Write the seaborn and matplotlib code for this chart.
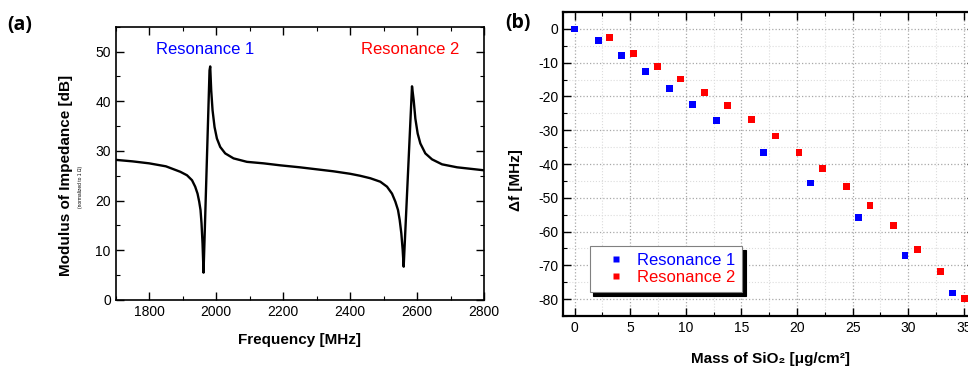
"""Impedance spectrum of a two-mode resonator and frequency shift vs. SiO2 mass loading."""

import matplotlib.pyplot as plt
import pandas as pd
import seaborn as sns
from matplotlib.ticker import MultipleLocator

# panel (a): modulus of impedance vs frequency
freq_mhz = [1700, 1750, 1800, 1850, 1893, 1913, 1928, 1937.5, 1944.5, 1949.4, 1953.4, 1956.4,
            1959.4, 1962.4, 1980.3, 1982.3, 1985.3, 1989.3, 1995.3, 2002.3, 2012.2, 2027.1,
            2052, 2092, 2141.6, 2191.5, 2250, 2300, 2350, 2400, 2430, 2460.5, 2490.4, 2510.4,
            2525.3, 2535.2, 2543.2, 2548.2, 2553.1, 2557.1, 2560.1, 2585, 2590, 2595, 2601.9,
            2609.9, 2624.8, 2644.8, 2674.7, 2719.6, 2760, 2800]
impedance_db = [28.2, 27.9, 27.5, 26.9, 25.8, 25.1, 24.1, 22.8, 21.4, 19.8, 18.1, 15.4,
                11.4, 5.5, 46.2, 47.0, 42.2, 38.2, 34.8, 32.5, 30.8, 29.5,
                28.5, 27.8, 27.5, 27.1, 26.7, 26.3, 25.9, 25.4, 25.0, 24.5, 23.8, 22.8,
                21.4, 19.8, 18.1, 16.1, 13.4, 10.1, 6.7, 43.0, 40.2, 36.5, 33.5,
                31.5, 29.5, 28.3, 27.3, 26.7, 26.4, 26.1]

# panel (b): frequency shift vs deposited mass
mass_res1 = [0.0, 2.13, 4.25, 6.35, 8.5, 10.63, 12.75, 16.98, 21.2, 25.5, 29.7, 34.0]
shift_res1 = [0.0, -3.4, -7.9, -12.5, -17.6, -22.3, -27.2, -36.5, -45.6, -55.9, -67.2, -78.2]
mass_res2 = [3.17, 5.3, 7.43, 9.55, 11.68, 13.77, 15.93, 18.05, 20.18, 22.3, 24.43, 26.56,
             28.65, 30.8, 32.93, 35.03]
shift_res2 = [-2.6, -7.2, -11.1, -14.8, -18.9, -22.6, -26.7, -31.7, -36.5, -41.3, -46.6, -52.2,
              -58.2, -65.3, -71.9, -79.9]

BLUE = "#0000ff"
RED = "#ff0000"

sns.set_theme(style="white")
plt.rcParams["font.family"] = ["Liberation Sans", "DejaVu Sans"]
plt.rcParams["text.color"] = "black"
plt.rcParams["axes.labelcolor"] = "black"
plt.rcParams["axes.unicode_minus"] = False

fig = plt.figure(figsize=(9.68, 3.69), dpi=100)
ax_a = fig.add_axes([0.1195, 0.187, 0.3805, 0.7407])
ax_b = fig.add_axes([0.5821, 0.1436, 0.4251, 0.8238])

# ---- (a)
sns.lineplot(x=freq_mhz, y=impedance_db, ax=ax_a, color="black", lw=1.7,
             estimator=None, sort=False)
ax_a.set_xlim(1700, 2800)
ax_a.set_ylim(0, 55)
ax_a.xaxis.set_major_locator(MultipleLocator(200))
ax_a.xaxis.set_minor_locator(MultipleLocator(100))
ax_a.yaxis.set_major_locator(MultipleLocator(10))
ax_a.yaxis.set_minor_locator(MultipleLocator(5))
ax_a.text(1967, 50.5, "Resonance 1", color=BLUE, fontsize=12, ha="center", va="center")
ax_a.text(2580, 50.5, "Resonance 2", color=RED, fontsize=12, ha="center", va="center")
ax_a.set_xlabel("Frequency [MHz]", fontsize=11, fontweight="bold")
ax_a.set_ylabel("Modulus of Impedance [dB]", fontsize=11, fontweight="bold")
ax_a.xaxis.set_label_coords(0.5, -0.12)
ax_a.yaxis.set_label_coords(-0.117, 0.457)
fig.text(0.083, 0.493, "(normalized to 1 Ω)", fontsize=3.5, rotation=90,
         ha="center", va="center")

# ---- (b)
shift = pd.DataFrame({
    "mass": mass_res1 + mass_res2,
    "shift": shift_res1 + shift_res2,
    "mode": ["Resonance 1"] * len(mass_res1) + ["Resonance 2"] * len(mass_res2),
})
sns.scatterplot(data=shift, x="mass", y="shift", hue="mode", ax=ax_b,
                palette={"Resonance 1": BLUE, "Resonance 2": RED},
                marker="s", s=24, edgecolor="none", zorder=3)
ax_b.set_xlim(-1, 36)
ax_b.set_ylim(-85, 5)
ax_b.xaxis.set_major_locator(MultipleLocator(5))
ax_b.xaxis.set_minor_locator(MultipleLocator(2.5))
ax_b.yaxis.set_major_locator(MultipleLocator(10))
ax_b.yaxis.set_minor_locator(MultipleLocator(5))
ax_b.grid(True, which="major", color="#a8a8a8", linestyle=":", linewidth=0.9)
ax_b.grid(True, which="minor", color="#dcdcdc", linestyle=":", linewidth=0.8)
ax_b.set_xlabel("Mass of SiO₂ [μg/cm²]", fontsize=11, fontweight="bold")
ax_b.set_ylabel("Δf [MHz]", fontsize=11, fontweight="bold")
ax_b.xaxis.set_label_coords(0.502, -0.12)
ax_b.yaxis.set_label_coords(-0.098, 0.447)

handles, labels = ax_b.get_legend_handles_labels()
leg = ax_b.legend(handles, labels, loc="lower left", bbox_to_anchor=(0.064, 0.079),
                  borderaxespad=0, fontsize=12, frameon=True, fancybox=False,
                  handlelength=2.4, handletextpad=0.05, borderpad=0.4, labelspacing=0.15,
                  markerscale=1.0,
                  shadow={"ox": 2.6, "oy": -2.6, "facecolor": "black", "edgecolor": "black",
                          "alpha": 1})
leg.get_frame().set_edgecolor("#808080")
leg.get_frame().set_linewidth(0.8)
leg.get_frame().set_alpha(1)
for txt, col in zip(leg.get_texts(), [BLUE, RED]):
    txt.set_color(col)

for ax, lw in [(ax_a, 1.2), (ax_b, 1.6)]:
    for sp in ax.spines.values():
        sp.set_visible(True)
        sp.set_color("black")
        sp.set_linewidth(lw)
    ax.tick_params(which="both", direction="in", top=True, right=True, bottom=True,
                   left=True, labelsize=10, colors="black")
    ax.tick_params(which="major", length=6, width=1.0)
    ax.tick_params(which="minor", length=3, width=0.8)
    ax.set_facecolor("white")

fig.text(0.007, 0.96, "(a)", fontsize=14, fontweight="bold", family="Open Sans",
         ha="left", va="top")
fig.text(0.522, 0.965, "(b)", fontsize=14, fontweight="bold", family="Open Sans",
         ha="left", va="top")

fig.savefig("out.png", dpi=100)
